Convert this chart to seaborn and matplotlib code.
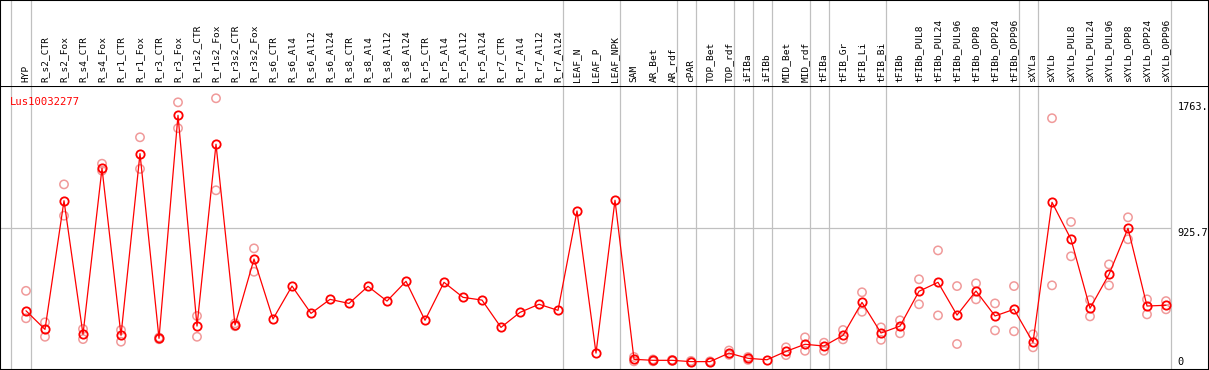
import matplotlib
matplotlib.use("Agg")
import matplotlib.pyplot as plt
import numpy as np
import pandas as pd
import seaborn as sns

SAMPLES = [
    "HYP", "R_s2_CTR", "R_s2_Fox", "R_s4_CTR", "R_s4_Fox", "R_r1_CTR", "R_r1_Fox",
    "R_r3_CTR", "R_r3_Fox", "R_r1s2_CTR", "R_r1s2_Fox", "R_r3s2_CTR", "R_r3s2_Fox",
    "R_s6_CTR", "R_s6_Al4", "R_s6_Al12", "R_s6_Al24", "R_s8_CTR", "R_s8_Al4",
    "R_s8_Al12", "R_s8_Al24", "R_r5_CTR", "R_r5_Al4", "R_r5_Al12", "R_r5_Al24",
    "R_r7_CTR", "R_r7_Al4", "R_r7_Al12", "R_r7_Al24", "LEAF_N", "LEAF_P", "LEAF_NPK",
    "SAM", "AR_Bet", "AR_rdf", "cPAR", "TOP_Bet", "TOP_rdf", "iFIBa", "iFIBb",
    "MID_Bet", "MID_rdf", "tFIBa", "tFIB_Gr", "tFIB_Li", "tFIB_Bi", "tFIBb",
    "tFIBb_PUL8", "tFIBb_PUL24", "tFIBb_PUL96", "tFIBb_OPP8", "tFIBb_OPP24",
    "tFIBb_OPP96", "sXYLa", "sXYLb", "sXYLb_PUL8", "sXYLb_PUL24", "sXYLb_PUL96",
    "sXYLb_OPP8", "sXYLb_OPP24", "sXYLb_OPP96",
]

MEANS = [
    355, 226, 1117, 192, 1341, 185, 1443, 164, 1708, 249, 1508, 256, 713,
    298, 526, 337, 434, 406, 524, 422, 559, 289, 552, 448, 429, 240, 344, 400, 358,
    1046, 62, 1120, 19, 12, 12, 3, 3, 62, 26, 16, 74, 123, 111, 185, 413, 201, 249,
    490, 552, 325, 492, 319, 365, 136, 1106, 850, 372, 607, 926, 388, 393,
]

# replicate values (None where hidden behind the mean)
REP_HIGH = [
    493, 275, 1230, 229, 1373, 222, 1556, 170, 1798, 319, 1826, 268, 787,
    None, None, None, None, None, None, None, None, None, None, None, None, None, None, None, None,
    None, None, None, 35, 18, 15, 8, 5, 80, 35, None, 102, 171, 134, 222, 483, 240, 289,
    573, 773, 526, 545, 406, 526, 192, 1688, 970, 429, 676, 1002, 434, 422,
]
REP_LOW = [
    303, 175, 1013, 159, 1325, 141, 1337, 158, 1619, 175, 1189, 248, 625,
    None, None, None, None, None, None, None, None, None, None, None, None, None, None, None, None,
    None, None, None, 5, 5, 8, 0, 0, 50, 15, None, 48, 78, 78, 157, 348, 154, 199,
    400, 323, 125, 434, 219, 213, 102, 531, 732, 316, 531, 850, 330, 365,
]

GENE = "Lus10032277"
GROUP_LINES = [-0.8, 0.25, 28.25, 31.25, 34.25, 35.25, 37.25, 38.25, 39.25,
               41.25, 42.25, 45.25, 52.25, 53.25, 60.25]
Y_TICKS = [0, 925.7, 1763.0]
Y_TICK_LABELS = ["0", "925.7", "1763."]
Y_TICK_VA = ["center", "top", "center"]

RED = "#ff0000"
PINK = "#f09a9a"
GREY = "#c0c0c0"

sns.set_style("white")
plt.rcParams["font.family"] = ["DejaVu Sans Mono", "DejaVu Sans"]

fig = plt.figure(figsize=(12.09, 3.70), dpi=100)
head_h = 86 / 370
ax = fig.add_axes([0, 0, 1, 1 - head_h])
hx = fig.add_axes([0, 1 - head_h, 1, head_h])

x = np.arange(len(SAMPLES))
xlim = (-26 / 19.0, (1209 - 26) / 19.0)

# header with rotated sample names
hx.set_xlim(*xlim)
hx.set_ylim(0, 86)
for i, name in enumerate(SAMPLES):
    hx.text(i, 4, name, rotation=90, ha="center", va="bottom", fontsize=6.8, color="black")
for gx in GROUP_LINES:
    hx.axvline(gx, color=GREY, lw=0.9, zorder=0)
hx.set_xticks([])
hx.set_yticks([])
for side, sp in hx.spines.items():
    sp.set_visible(side != "bottom")
    sp.set_color("black")
    sp.set_linewidth(1.5)

# data panel
reps = pd.DataFrame({
    "x": np.concatenate([x, x]),
    "value": pd.to_numeric(pd.Series(REP_HIGH + REP_LOW), errors="coerce"),
}).dropna()
means = pd.DataFrame({"x": x, "value": MEANS})

for gx in GROUP_LINES:
    ax.axvline(gx, color=GREY, lw=0.9, zorder=0)
ax.hlines(Y_TICKS[1], xlim[0], GROUP_LINES[-1], color=GREY, lw=0.9, zorder=0)

sns.scatterplot(data=reps, x="x", y="value", ax=ax, marker="o", s=36,
                facecolor="none", edgecolor=PINK, linewidth=1.1, zorder=2)
sns.lineplot(data=means, x="x", y="value", ax=ax, color=RED, lw=0.9, sort=False,
             marker="o", markersize=6, markerfacecolor="none",
             markeredgecolor=RED, markeredgewidth=1.3, zorder=3)

ax.set_xlim(*xlim)
ax.set_ylim(-55, 1911)
ax.set_xticks([])
ax.set_yticks([])
ax.set_xlabel("")
ax.set_ylabel("")
for sp in ax.spines.values():
    sp.set_color("black")
    sp.set_linewidth(1.5)

ax.text(-0.85, 1800, GENE, color=RED, fontsize=7.6, ha="left", va="center")
for val, lab, va in zip(Y_TICKS, Y_TICK_LABELS, Y_TICK_VA):
    ax.text(60.6, val, lab, fontsize=7.4, ha="left", va=va, color="black")

fig.savefig("out.png", dpi=100)
